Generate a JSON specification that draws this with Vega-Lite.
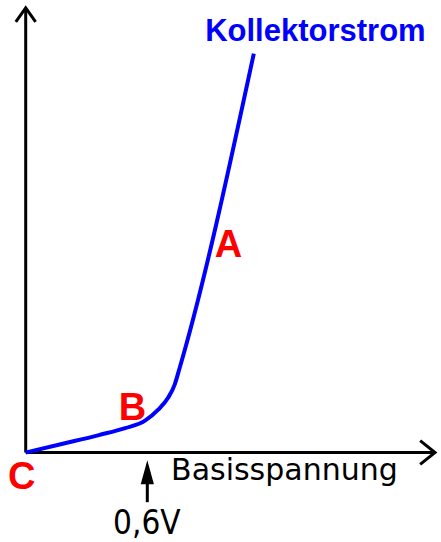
{
  "$schema": "https://vega.github.io/schema/vega-lite/v6.json",
  "width": 441,
  "height": 542,
  "padding": 0,
  "autosize": {"type": "fit", "contains": "padding"},
  "background": "white",
  "config": {"view": {"stroke": null}},
  "datasets": {
    "axes": [
      {"g": "yaxis", "o": 0, "x": 0, "y": 0},
      {"g": "yaxis", "o": 1, "x": 0, "y": 9.978},
      {"g": "xaxis", "o": 0, "x": 0, "y": 0},
      {"g": "xaxis", "o": 1, "x": 2.0195, "y": 0},
      {"g": "topHead", "o": 0, "x": -0.0488, "y": 9.665},
      {"g": "topHead", "o": 1, "x": 0, "y": 9.978},
      {"g": "topHead", "o": 2, "x": 0.0488, "y": 9.665},
      {"g": "rightHead", "o": 0, "x": 1.9463, "y": 0.2679},
      {"g": "rightHead", "o": 1, "x": 2.0195, "y": 0},
      {"g": "rightHead", "o": 2, "x": 1.9463, "y": -0.2679},
      {"g": "marker", "o": 0, "x": 0.6, "y": -0.55},
      {"g": "marker", "o": 1, "x": 0.6, "y": -1.116}
    ],
    "curve": [
      {"x": 0, "y": 0},
      {"x": 0.1985, "y": 0.212},
      {"x": 0.361, "y": 0.3906},
      {"x": 0.4912, "y": 0.5469},
      {"x": 0.5888, "y": 0.7143},
      {"x": 0.6537, "y": 0.9598},
      {"x": 0.7024, "y": 1.2277},
      {"x": 0.7351, "y": 1.5246},
      {"x": 0.7595, "y": 1.8973},
      {"x": 1.1254, "y": 8.9509}
    ],
    "head": [{"x": 0.6, "y": -0.4464}],
    "red": [
      {"t": "A", "x": 1.0, "y": 4.397},
      {"t": "B", "x": 0.5268, "y": 0.7366},
      {"t": "C", "x": -0.0195, "y": -0.8259}
    ],
    "ylabel": [{"t": "Kollektorstrom", "x": 1.4293, "y": 9.2254}],
    "xlabel": [{"t": "Basisspannung", "x": 0.7171, "y": -0.625}],
    "vlabel": [{"t": "0,6V", "x": 0.5976, "y": -1.8304}]
  },
  "encoding": {
    "x": {"field": "x", "type": "quantitative", "scale": {"domain": [-0.12683, 2.02439], "nice": false, "zero": false}, "axis": null},
    "y": {"field": "y", "type": "quantitative", "scale": {"domain": [-1.94196, 10.15625], "nice": false, "zero": false}, "axis": null}
  },
  "layer": [
    {
      "data": {"name": "axes"},
      "mark": {"type": "line", "color": "black", "strokeWidth": 3, "strokeCap": "butt", "strokeJoin": "miter"},
      "encoding": {"detail": {"field": "g"}, "order": {"field": "o"}}
    },
    {
      "data": {"name": "curve"},
      "mark": {"type": "line", "color": "#0000FF", "strokeWidth": 4, "interpolate": "monotone", "strokeCap": "butt"},
      "encoding": {}
    },
    {
      "data": {"name": "head"},
      "mark": {"type": "point", "shape": "M0,-1L0.55,1L-0.55,1Z", "size": 576, "filled": true, "color": "black", "opacity": 1, "strokeWidth": 0}
    },
    {
      "data": {"name": "red"},
      "mark": {"type": "text", "font": "Liberation Sans", "fontWeight": "bold", "fontSize": 38, "color": "#FF0000", "align": "center", "baseline": "alphabetic"},
      "encoding": {"text": {"field": "t"}}
    },
    {
      "data": {"name": "ylabel"},
      "mark": {"type": "text", "font": "Liberation Sans", "fontWeight": "bold", "fontSize": 31, "color": "#0000FF", "align": "center", "baseline": "alphabetic"},
      "encoding": {"text": {"field": "t"}}
    },
    {
      "data": {"name": "xlabel"},
      "mark": {"type": "text", "font": "DejaVu Sans", "fontSize": 30, "color": "black", "align": "left", "baseline": "alphabetic"},
      "encoding": {"text": {"field": "t"}}
    },
    {
      "data": {"name": "vlabel"},
      "mark": {"type": "text", "font": "Liberation Sans Narrow, DejaVu Sans Condensed, Liberation Sans", "fontSize": 33, "color": "black", "align": "center", "baseline": "alphabetic"},
      "encoding": {"text": {"field": "t"}}
    }
  ]
}
